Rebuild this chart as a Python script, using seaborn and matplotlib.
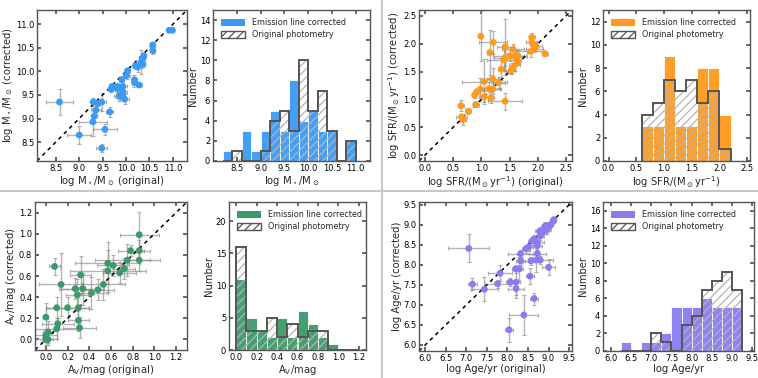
import matplotlib
matplotlib.use("Agg")
import matplotlib.pyplot as plt
import seaborn as sns
import numpy as np
import pandas as pd
from matplotlib.patches import Patch
from matplotlib.lines import Line2D

# ----------------------------------------------------------------------
# Data
# ----------------------------------------------------------------------
# stellar mass: original vs corrected, with errors
mass_orig = [8.58, 9.00, 9.48, 9.30, 9.40, 9.48, 9.36, 9.32, 9.29, 9.55, 9.65, 9.70,
             9.68, 9.82, 9.81, 9.85, 9.91, 9.93, 9.93, 9.92, 9.97, 10.01, 10.03, 10.18,
             10.18, 10.28, 10.20, 10.25, 10.32, 10.35, 10.38, 10.36, 10.57, 10.57, 10.92, 10.99]
mass_corr = [9.35, 8.65, 8.37, 9.35, 9.32, 9.35, 9.18, 9.05, 8.93, 8.77, 9.14, 9.68,
             9.62, 9.68, 9.63, 9.47, 9.82, 9.68, 9.57, 9.51, 9.41, 9.91, 10.01, 9.82,
             9.76, 9.71, 10.12, 10.09, 10.20, 10.27, 10.33, 10.15, 10.56, 10.44, 10.87, 10.87]
mass_xerr = [0.28, 0.26, 0.12, 0.05, 0.05, 0.10, 0.10, 0.05, 0.30, 0.25, 0.08, 0.05,
             0.05, 0.05, 0.08, 0.10, 0.05, 0.10, 0.10, 0.05, 0.10, 0.08, 0.05, 0.05,
             0.05, 0.05, 0.05, 0.08, 0.05, 0.05, 0.05, 0.05, 0.05, 0.05, 0.03, 0.03]
mass_yerr = [0.27, 0.20, 0.08, 0.08, 0.05, 0.20, 0.10, 0.15, 0.30, 0.12, 0.10, 0.05,
             0.05, 0.05, 0.08, 0.10, 0.08, 0.05, 0.10, 0.10, 0.10, 0.08, 0.05, 0.10,
             0.10, 0.05, 0.05, 0.10, 0.25, 0.05, 0.05, 0.05, 0.05, 0.08, 0.03, 0.03]
mass_bins = [8.2, 8.4, 8.6, 8.8, 9.0, 9.2, 9.4, 9.6, 9.8, 10.0, 10.2, 10.4, 10.6, 10.8, 11.0]
mass_hist_corr = [1, 0, 3, 1, 3, 5, 3, 8, 4, 5, 3, 3, 0, 2]
mass_hist_orig = [0, 1, 0, 0, 1, 4, 5, 3, 10, 5, 7, 3, 0, 2]

# star formation rate
sfr_orig = [0.99, 1.21, 1.15, 1.42, 1.56, 1.89, 1.89, 1.87, 1.93, 1.97, 2.12, 1.40, 1.42,
            1.50, 1.59, 1.65, 1.64, 1.59, 1.54, 1.52, 1.35, 1.31, 1.20, 1.13, 1.20, 1.05,
            0.98, 0.92, 0.88, 1.05, 1.17, 1.42, 0.90, 0.64, 0.77, 0.65, 0.68]
sfr_corr = [2.13, 2.02, 1.84, 1.94, 1.90, 2.11, 2.02, 1.86, 1.90, 1.95, 1.82, 1.71, 1.75,
            1.78, 1.77, 1.78, 1.67, 1.61, 1.55, 1.51, 1.54, 1.30, 1.37, 1.19, 1.19, 1.32,
            1.18, 1.14, 1.08, 1.05, 1.03, 0.97, 0.91, 0.89, 0.79, 0.69, 0.64]
sfr_xerr = [0.03, 0.25, 0.05, 0.15, 0.20, 0.05, 0.10, 0.25, 0.15, 0.10, 0.05, 0.30, 0.20,
            0.30, 0.20, 0.10, 0.05, 0.10, 0.05, 0.08, 0.05, 0.10, 0.10, 0.20, 0.15, 0.40,
            0.05, 0.05, 0.05, 0.10, 0.05, 0.30, 0.05, 0.05, 0.05, 0.10, 0.05]
sfr_yerr = [0.45, 0.20, 0.40, 0.50, 0.10, 0.08, 0.10, 0.10, 0.05, 0.08, 0.05, 0.20, 0.15,
            0.10, 0.10, 0.10, 0.05, 0.10, 0.10, 0.05, 0.20, 0.10, 0.20, 0.20, 0.10, 0.40,
            0.20, 0.05, 0.05, 0.10, 0.10, 0.15, 0.05, 0.10, 0.05, 0.05, 0.10]
sfr_bins = [0.6, 0.8, 1.0, 1.2, 1.4, 1.6, 1.8, 2.0, 2.2]
sfr_hist_corr = [3, 3, 9, 3, 3, 8, 8, 4]
sfr_hist_orig = [4, 5, 7, 6, 7, 5, 6, 1]

# dust attenuation A_V
av_orig = [0.86, 0.86, 0.78, 0.75, 0.86, 0.72, 0.68, 0.57, 0.62, 0.57, 0.53, 0.48, 0.42,
           0.34, 0.27, 0.29, 0.32, 0.14, 0.08, 0.20, 0.10, 0.30, 0.30, 0.31, 0.11, 0.10,
           0.00, 0.02, 0.00, 0.00, 0.02, 0.00]
av_corr = [0.99, 0.84, 0.84, 0.75, 0.75, 0.67, 0.63, 0.72, 0.70, 0.65, 0.52, 0.47, 0.44,
           0.48, 0.48, 0.42, 0.61, 0.52, 0.69, 0.30, 0.30, 0.30, 0.18, 0.11, 0.15, 0.10,
           0.21, 0.07, 0.04, 0.00, 0.00, 0.01]
av_xerr = [0.18, 0.10, 0.12, 0.30, 0.10, 0.10, 0.15, 0.30, 0.15, 0.35, 0.20, 0.15, 0.15,
           0.20, 0.15, 0.10, 0.10, 0.20, 0.05, 0.20, 0.10, 0.10, 0.10, 0.15, 0.15, 0.20,
           0.02, 0.05, 0.10, 0.10, 0.05, 0.03]
av_yerr = [0.22, 0.10, 0.05, 0.15, 0.10, 0.10, 0.10, 0.20, 0.10, 0.20, 0.15, 0.10, 0.15,
           0.15, 0.10, 0.15, 0.18, 0.30, 0.08, 0.10, 0.10, 0.20, 0.10, 0.10, 0.05, 0.10,
           0.13, 0.10, 0.05, 0.05, 0.05, 0.03]
av_bins = [0.0, 0.1, 0.2, 0.3, 0.4, 0.5, 0.6, 0.7, 0.8, 0.9, 1.0, 1.1, 1.2]
av_hist_corr = [11, 5, 3, 2, 5, 2, 6, 4, 2, 1, 0, 0]
av_hist_orig = [16, 3, 3, 5, 2, 4, 2, 3, 3, 0, 0, 0]

# stellar age
age_orig = [7.06, 7.15, 7.44, 7.76, 7.82, 8.07, 8.04, 8.21, 8.21, 8.20, 8.29, 8.40, 8.65,
            8.55, 8.32, 8.57, 8.70, 8.80, 9.00, 8.32, 8.45, 8.52, 8.73, 8.73, 8.73, 8.64,
            8.80, 8.84, 8.78, 8.90, 8.97, 9.02, 8.98, 9.06, 9.11, 9.13, 8.92, 8.61]
age_corr = [8.41, 7.52, 7.39, 7.53, 7.79, 7.57, 6.38, 7.57, 7.41, 7.90, 7.90, 6.75, 7.16,
            7.72, 8.10, 8.10, 8.12, 8.12, 7.94, 8.28, 8.40, 8.45, 8.28, 8.48, 8.56, 8.64,
            8.72, 8.80, 8.84, 8.88, 8.88, 8.97, 8.97, 9.01, 9.09, 9.13, 8.97, 8.60]
age_xerr = [0.50, 0.10, 0.33, 0.30, 0.30, 0.10, 0.10, 0.10, 0.20, 0.10, 0.10, 0.35, 0.10,
            0.10, 0.10, 0.20, 0.10, 0.30, 0.15, 0.30, 0.10, 0.10, 0.20, 0.10, 0.15, 0.10,
            0.10, 0.10, 0.10, 0.10, 0.10, 0.05, 0.05, 0.05, 0.05, 0.05, 0.10, 0.10]
age_yerr = [0.35, 0.15, 0.30, 0.10, 0.20, 0.10, 0.30, 0.40, 0.15, 0.10, 0.30, 0.50, 0.15,
            0.20, 0.10, 0.10, 0.30, 0.10, 0.20, 0.10, 0.10, 0.10, 0.20, 0.10, 0.10, 0.10,
            0.10, 0.10, 0.10, 0.10, 0.10, 0.05, 0.10, 0.05, 0.05, 0.05, 0.10, 0.10]
age_bins = [6.25, 6.5, 6.75, 7.0, 7.25, 7.5, 7.75, 8.0, 8.25, 8.5, 8.75, 9.0, 9.25]
age_hist_corr = [1, 0, 1, 1, 2, 5, 5, 5, 6, 5, 5, 5]
age_hist_orig = [0, 0, 0, 2, 1, 0, 3, 4, 7, 8, 9, 7]

# ----------------------------------------------------------------------
# Style
# ----------------------------------------------------------------------
sns.set_theme(style="ticks")
plt.rcParams.update({
    "font.family": ["DejaVu Sans"],
    "axes.edgecolor": "#555555",
    "axes.linewidth": 1.0,
    "axes.labelsize": 7.2,
    "axes.labelpad": 1.0,
    "xtick.direction": "in",
    "ytick.direction": "in",
    "xtick.top": True,
    "ytick.right": True,
    "xtick.color": "#555555",
    "ytick.color": "#555555",
    "xtick.labelcolor": "black",
    "ytick.labelcolor": "black",
    "xtick.labelsize": 6.0,
    "ytick.labelsize": 6.0,
    "xtick.major.size": 3,
    "ytick.major.size": 3,
    "xtick.major.pad": 2.0,
    "ytick.major.pad": 2.0,
    "hatch.color": "#a6a6a6",
    "hatch.linewidth": 0.9,
    "mathtext.default": "regular",
})

BLUE = "#3a9bf6"
ORANGE = "#ff9a1c"
GREEN = "#3b9a68"
PURPLE = "#8a7bf0"
HATCH = "#b4b4b4"
OUTLINE = "#555555"

W, H = 758, 378


def add_axes(fig, x0, y0, x1, y1):
    """Axes from pixel box (top-left origin)."""
    return fig.add_axes([x0 / W, 1 - y1 / H, (x1 - x0) / W, (y1 - y0) / H])


def scatter_panel(ax, x, y, xe, ye, color, lim, ticks, xlabel, ylabel):
    ax.errorbar(x, y, xerr=xe, yerr=ye, fmt="none", ecolor="#8c8c8c", alpha=0.65,
                elinewidth=1.0, capsize=1.5, capthick=0.8, zorder=1)
    ax.plot(lim, lim, ls=(0, (2.5, 2.5)), color="black", lw=1.1, zorder=2)
    sns.scatterplot(x=x, y=y, ax=ax, color=color, s=24, edgecolor="none", zorder=3)
    ax.set_xlim(lim)
    ax.set_ylim(lim)
    ax.set_xticks(ticks)
    ax.set_yticks(ticks)
    ax.set_xlabel(xlabel)
    ax.set_ylabel(ylabel, labelpad=0.5)


def hist_panel(ax, bins, corr, orig, color, xlim, ylim, xticks, yticks, xlabel):
    edges = np.asarray(bins, dtype=float)
    centers = 0.5 * (edges[:-1] + edges[1:])
    df = pd.DataFrame({"center": centers, "count": np.asarray(corr, dtype=float)})
    sns.histplot(data=df, x="center", weights="count", bins=list(bins), color=color,
                 alpha=0.95, edgecolor="white", linewidth=0.6, ax=ax, zorder=1)
    # hatched original photometry on top of the coloured bars
    ax.bar(centers, orig, width=np.diff(edges), fill=False, edgecolor=HATCH,
           linewidth=0, hatch="////", zorder=2)
    ax.stairs(orig, edges, fill=False, edgecolor=OUTLINE, linewidth=1.4, zorder=3)
    ax.set_xlim(xlim)
    ax.set_ylim(ylim)
    ax.set_xticks(xticks)
    ax.set_yticks(yticks)
    ax.set_xlabel(xlabel)
    ax.set_ylabel("Number")
    handles = [
        Patch(facecolor=color, edgecolor="none", label="Emission line corrected"),
        Patch(facecolor="white", edgecolor=OUTLINE, hatch="////", lw=1.0,
              label="Original photometry"),
    ]
    ax.legend(handles=handles, loc="upper left", frameon=False, fontsize=5.8,
              handlelength=3.0, handleheight=0.9, borderaxespad=0.6, labelspacing=0.4)


fig = plt.figure(figsize=(W / 100, H / 100), dpi=100)

# top-left: stellar mass
ax = add_axes(fig, 37, 10, 187, 161)
scatter_panel(ax, mass_orig, mass_corr, mass_xerr, mass_yerr, BLUE, (8.1, 11.3),
              np.arange(8.5, 11.01, 0.5),
              r"log M$_\star$/M$_\odot$ (original)", r"log M$_\star$/M$_\odot$ (corrected)")
ax = add_axes(fig, 213, 10, 370, 161)
hist_panel(ax, mass_bins, mass_hist_corr, mass_hist_orig, BLUE, (8.0, 11.3), (0, 15),
           np.arange(8.5, 11.01, 0.5), np.arange(0, 15, 2), r"log M$_\star$/M$_\odot$")

# top-right: SFR
ax = add_axes(fig, 419, 10, 572, 161)
scatter_panel(ax, sfr_orig, sfr_corr, sfr_xerr, sfr_yerr, ORANGE, (-0.1, 2.6),
              np.arange(0, 2.51, 0.5),
              r"log SFR/(M$_\odot$yr$^{-1}$) (original)", r"log SFR/(M$_\odot$yr$^{-1}$) (corrected)")
ax = add_axes(fig, 603, 10, 750, 161)
hist_panel(ax, sfr_bins, sfr_hist_corr, sfr_hist_orig, ORANGE, (-0.1, 2.55), (0, 13),
           np.arange(0, 2.51, 0.5), np.arange(0, 13, 2), r"log SFR/(M$_\odot$yr$^{-1}$)")

# bottom-left: A_V
ax = add_axes(fig, 35, 202, 187, 350)
scatter_panel(ax, av_orig, av_corr, av_xerr, av_yerr, GREEN, (-0.1, 1.3),
              np.arange(0, 1.21, 0.2), r"A$_V$/mag (original)", r"A$_V$/mag (corrected)")
ax = add_axes(fig, 229, 202, 366, 350)
hist_panel(ax, av_bins, av_hist_corr, av_hist_orig, GREEN, (-0.07, 1.27), (0, 23),
           np.arange(0, 1.21, 0.2), np.arange(0, 21, 5), r"A$_V$/mag")

# bottom-right: age
ax = add_axes(fig, 419, 202, 572, 351)
scatter_panel(ax, age_orig, age_corr, age_xerr, age_yerr, PURPLE, (5.85, 9.57),
              np.arange(6.0, 9.51, 0.5), "log Age/yr (original)", "log Age/yr (corrected)")
ax = add_axes(fig, 603, 202, 754, 351)
hist_panel(ax, age_bins, age_hist_corr, age_hist_orig, PURPLE, (5.8, 9.55), (0, 17),
           np.arange(6.0, 9.51, 0.5), np.arange(0, 17, 2), "log Age/yr")

# quadrant separators
fig.add_artist(Line2D([382 / W, 382 / W], [0, 1], color="#c8c8c8", lw=1.5,
                      transform=fig.transFigure))
fig.add_artist(Line2D([0, 1], [1 - 191 / H, 1 - 191 / H], color="#c8c8c8", lw=1.5,
                      transform=fig.transFigure))

fig.savefig("out.png", dpi=100)
